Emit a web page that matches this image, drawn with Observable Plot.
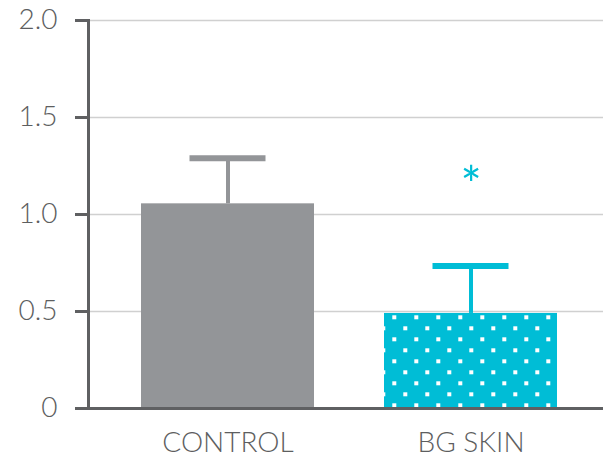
<!DOCTYPE html>
<html>
<head>
<meta charset="utf-8">
<script src="https://cdn.jsdelivr.net/npm/d3@7"></script>
<script src="https://cdn.jsdelivr.net/npm/@observablehq/plot@0.6"></script>
<style>
  html, body { margin: 0; padding: 0; background: #fff; }
  #chart svg { display: block; }
</style>
</head>
<body>
<div id="chart"></div>
<script>
// ---- data ----
const categories = ["CONTROL", "BG SKIN"];
const means = [1.055, 0.49];
const errUpper = [0.235, 0.245];
const significance = ["", "*"];
const significanceY = [null, 1.24];
const yTicks = [0, 0.5, 1, 1.5, 2];
const yTickLabels = ["0", "0.5", "1.0", "1.5", "2.0"];

const rows = categories.map((c, i) => ({
  cat: c, mean: means[i], hi: means[i] + errUpper[i],
  sig: significance[i], sigY: significanceY[i]
}));

const GRAY = "#939598";
const CYAN = "#00bdd6";
const AXIS = "#5f6062";
const TEXT = "#5d5e60";
const fillOf = c => c === "CONTROL" ? GRAY : "url(#dots)";
const strokeOf = c => c === "CONTROL" ? GRAY : CYAN;

const plot = Plot.plot({
  width: 603,
  height: 459,
  marginLeft: 88,
  marginRight: 0,
  marginTop: 20,
  marginBottom: 51,
  style: { fontFamily: "Lato, sans-serif", fontWeight: 300, color: TEXT, background: "#fff" },
  x: { domain: categories, range: [106, 592], paddingInner: 0.288, paddingOuter: 0.144, align: 0.5 },
  y: { domain: [0, 2], ticks: yTicks },
  color: { type: "identity" },
  marks: [
    Plot.ruleY(yTicks.filter(d => d > 0), { stroke: "#d0d0d0", strokeWidth: 1.5 }),
    Plot.barY(rows, { x: "cat", y: "mean", fill: d => fillOf(d.cat) }),
    Plot.ruleX(rows, { x: "cat", y1: "mean", y2: "hi", stroke: d => strokeOf(d.cat), strokeWidth: 4 }),
    Plot.tickY(rows, { x: "cat", y: "hi", stroke: d => strokeOf(d.cat), strokeWidth: 6, insetLeft: 48.5, insetRight: 48.5 }),
    Plot.text(rows.filter(d => d.sig), { x: "cat", y: "sigY", text: "sig", fill: CYAN, fontSize: 50, fontWeight: 400, lineAnchor: "top" }),
    Plot.frame({ anchor: "left", stroke: AXIS, strokeWidth: 3 }),
    Plot.axisY({ ticks: yTicks, tickFormat: (d) => yTickLabels[yTicks.indexOf(d)], tickSize: 13, tickPadding: 18, stroke: AXIS, strokeWidth: 3, strokeOpacity: 1, fontSize: 28, fill: TEXT }),
    Plot.ruleY([0], { stroke: AXIS, strokeWidth: 3 }),
    Plot.axisX({ tickSize: 0, tickPadding: 24, fontSize: 28, fill: TEXT, label: null })
  ]
});

// dotted pattern for the treated bar
const svg = d3.select(plot);
const defs = svg.insert("defs", ":first-child");
const pat = defs.append("pattern")
  .attr("id", "dots")
  .attr("patternUnits", "userSpaceOnUse")
  .attr("x", 392.3).attr("y", 315.3)
  .attr("width", 22).attr("height", 22);
pat.append("rect").attr("width", 22).attr("height", 22).attr("fill", CYAN);
pat.append("rect").attr("x", 0).attr("y", 0).attr("width", 4).attr("height", 4).attr("fill", "#fff");
pat.append("rect").attr("x", 11).attr("y", 11).attr("width", 4).attr("height", 4).attr("fill", "#fff");

document.getElementById("chart").appendChild(plot);
</script>
</body>
</html>
